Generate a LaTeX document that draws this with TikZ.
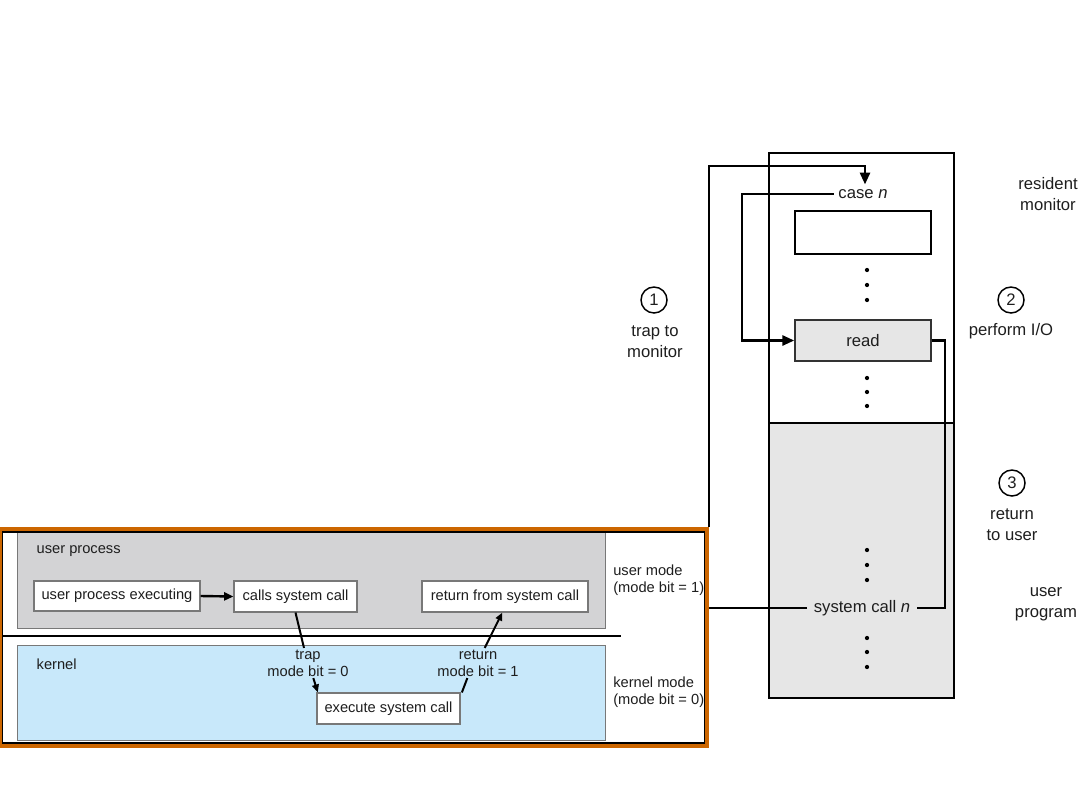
\documentclass[tikz,border=0pt]{standalone}
\usepackage{fontspec}
\setmainfont{Liberation Sans}
\usetikzlibrary{arrows.meta,calc}
\definecolor{orng}{RGB}{204,102,0}
\definecolor{ugray}{RGB}{211,211,213}
\definecolor{kblue}{RGB}{200,232,250}
\definecolor{lgray}{RGB}{230,230,230}
\definecolor{bgray}{RGB}{120,120,120}
\definecolor{txt}{RGB}{30,30,30}
\tikzset{
  sm/.style={font=\fontsize{11}{13}\selectfont, text=txt},
  lg/.style={font=\fontsize{12.5}{15.5}\selectfont, text=txt},
  wbox/.style={draw=bgray, line width=0.8pt, fill=white, inner sep=0pt, sm},
  region/.style={draw=bgray, line width=0.6pt, inner sep=0pt},
  conn/.style={line width=2.1pt},
  arr/.style={line width=2.1pt, -{Triangle[length=9pt,width=7.5pt]}},
  harr/.style={line width=1.8pt, -{Triangle[length=7pt,width=6pt]}},
  thinarr/.style={line width=1.5pt, -{Triangle[length=6pt,width=5pt]}},
  thinline/.style={line width=1.5pt},
  num/.style={circle, draw, line width=1.1pt, minimum size=19.5pt, inner sep=0pt, lg},
  dot/.style={circle, fill, inner sep=0pt, minimum size=3.2pt},
}
\begin{document}
\begin{tikzpicture}[x=0.75pt,y=-0.75pt]
\useasboundingbox (0,0) rectangle (1080,810);
% ---- left figure ----
\node[region, fill=ugray, minimum width=441pt, minimum height=72pt] (ureg) at (311,580) {};
\node[region, fill=kblue, minimum width=441pt, minimum height=71.25pt] (kreg) at (311,692.5) {};
\draw[line width=2pt] (2,636) -- (621,636);
\node[sm, anchor=west] (ulbl) at (32,551) {user process};
\node[sm, anchor=west] (klbl) at (32,664) {kernel};
\node[wbox, minimum width=124.5pt, minimum height=22.5pt] (exe) at (117,596) {user process executing};
\node[wbox, minimum width=92.25pt, minimum height=23.25pt] (calls) at (295.5,596.5) {calls system call};
\node[wbox, minimum width=124.5pt, minimum height=23.25pt] (retsys) at (505,596.5) {return from system call};
\node[wbox, minimum width=107.25pt, minimum height=23.25pt] (execsys) at (388.5,708.5) {execute system call};
\node[sm, align=center, inner sep=1pt] (trapl) at (308,663) {trap\\mode bit = 0};
\node[sm, align=center, inner sep=1pt] (retl) at (478,663) {return\\mode bit = 1};
\node[sm, align=left, anchor=west, inner sep=0pt] (umode) at (613,580) {user mode\\(mode bit = 1)};
\node[sm, align=left, anchor=west, inner sep=0pt] (kmode) at (613,692.5) {kernel mode\\(mode bit = 0)};
\draw[harr] (exe.east) -- (calls.west);
\draw[thinline] (calls.south) -- ([xshift=-3pt]trapl.north);
\draw[thinarr] ([xshift=4pt]trapl.south) -- ([xshift=1pt]execsys.north west);
\draw[thinline] ([xshift=1pt]execsys.north east) -- ([xshift=-8pt]retl.south);
\draw[thinarr] ([xshift=5pt]retl.north) -- ([xshift=-2pt]retsys.south);
\draw[line width=1.5pt] (1.5,531.5) rectangle (704.5,742.5);
\node[draw=orng, line width=3pt, minimum width=530.25pt, minimum height=162.75pt, inner sep=0pt] (frame) at (353.5,637) {};
% ---- right figure ----
\draw[line width=2pt] (769,153) rectangle (954,423);
\draw[line width=2pt, fill=lgray] (769,423) rectangle (954,698);
\node[draw, line width=2.2pt, minimum width=102pt, minimum height=32.25pt, inner sep=0pt] (blk) at (863,232.5) {};
\node[draw=black!80, line width=1.1pt, fill=lgray, minimum width=102pt, minimum height=30.75pt, inner sep=0pt, lg] (read) at (863,340.5) {read};
\node[lg, fill=white, inner sep=3.5pt] (casen) at (863,194) {case \textit{n}};
\node[lg, fill=lgray, inner sep=0pt, minimum height=20pt, minimum width=82pt] (sysn) at (862,608) {system call \textit{n}};
\foreach \yy in {270,285,300,378,392,406,550,565,580,638,652,667}
  \node[dot] at (867,\yy) {};
\coordinate (c1) at (865,166);
\coordinate (c2) at (742,194);
\coordinate (c3) at (945,345);
\draw[arr] (frame.north east) |- (c1) -- (c1 |- casen.north);
\draw[arr] (casen.west) -- (casen.west -| c2) |- (read.west);
\draw[conn] (read.east) -- (read.east -| c3) |- (sysn.east);
\draw[conn] (sysn.west) -- (sysn.west -| frame.east);
% labels
\node[num] (n1) at (654,300) {1};
\node[lg, align=center, inner sep=0pt] (l1) at (655,341.5) {trap to\\monitor};
\node[num] (n2) at (1011,300) {2};
\node[lg, inner sep=0pt] (l2) at (1011,331) {perform I/O};
\node[num] (n3) at (1012,483) {3};
\node[lg, align=center, inner sep=0pt] (l3) at (1012,524.5) {return\\to user};
\node[lg, align=center, inner sep=0pt] (l4) at (1048,194) {resident\\monitor};
\node[lg, align=center, inner sep=0pt] (l5) at (1046,604.5) {user\\program};
\end{tikzpicture}
\end{document}
